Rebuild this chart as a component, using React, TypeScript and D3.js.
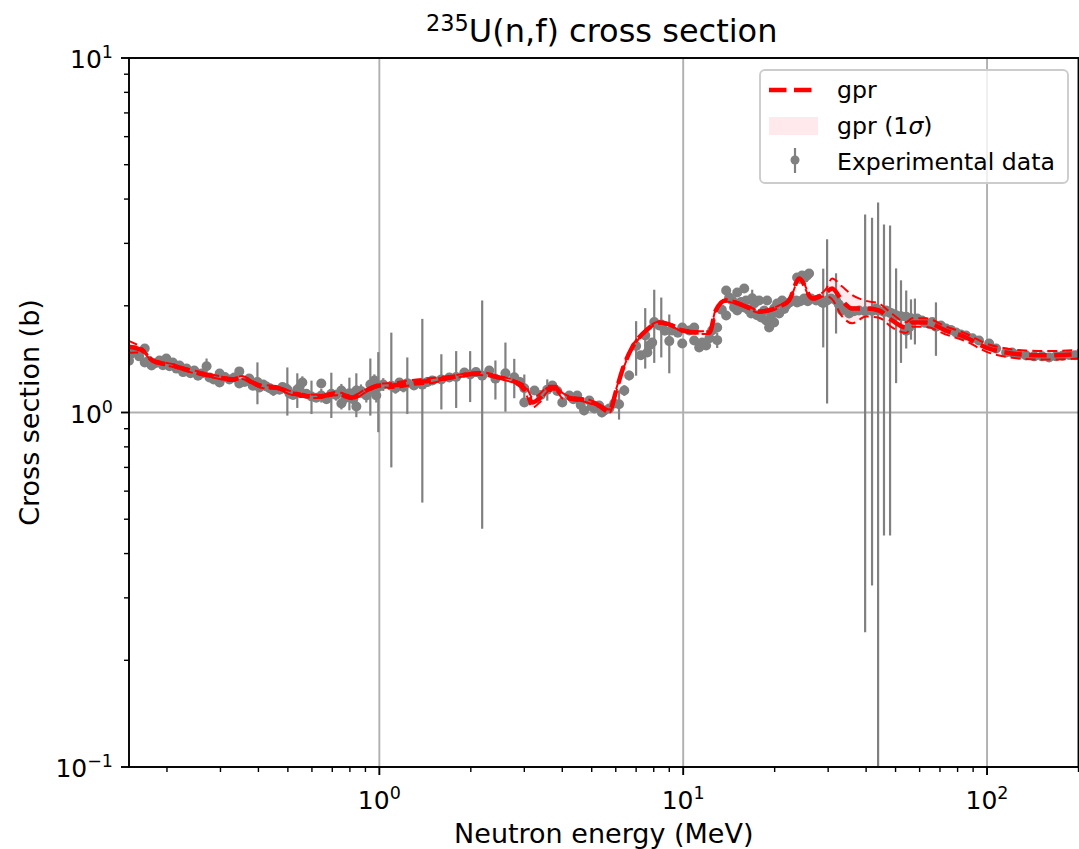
import React from 'react';
import * as d3 from 'd3';

const W = 1079;
const H = 849;
const X0 = 129, X1 = 1078.5, Y0 = 58, Y1 = 767;
const FONT = 'DejaVu Sans';
const FS_LEG = 23.6;
const FS_TICK = 25;
const FS_LAB = 27;
const FS_TITLE = 32;

// GPR mean curve and 1-sigma
const gprEnergy = [0.149, 0.166, 0.179, 0.193, 0.209, 0.225, 0.25, 0.276, 0.298, 0.328, 0.354, 0.382, 0.412, 0.458, 0.506, 0.558, 0.635, 0.722, 0.815, 0.906, 1.0, 1.104, 1.284, 1.493, 1.70, 2.13, 2.48, 2.82, 3.04, 3.19, 3.36, 3.62, 3.82, 4.0, 4.31, 4.80, 5.29, 5.71, 6.02, 6.30, 6.79, 7.55, 8.34, 9.2, 9.93, 11.3, 12.2, 12.8, 13.8, 16.1, 17.8, 20.7, 22.3, 24.1, 26.6, 29.5, 30.9, 33.3, 36.0, 40.0, 44.1, 48.7, 54.2, 56.7, 63.0, 73.3, 85.3, 99.3, 115.6, 134.4, 156.4, 200];
const gprMean = [1.535, 1.496, 1.402, 1.375, 1.357, 1.331, 1.297, 1.272, 1.255, 1.239, 1.255, 1.215, 1.184, 1.176, 1.139, 1.117, 1.11, 1.131, 1.102, 1.154, 1.192, 1.192, 1.215, 1.231, 1.255, 1.288, 1.255, 1.215, 1.154, 1.067, 1.095, 1.169, 1.169, 1.117, 1.095, 1.081, 1.046, 1.007, 1.154, 1.314, 1.525, 1.703, 1.794, 1.759, 1.703, 1.681, 1.681, 1.94, 2.07, 1.99, 1.927, 1.99, 2.07, 2.388, 2.097, 2.18, 2.238, 2.07, 1.965, 1.965, 1.94, 1.818, 1.737, 1.794, 1.794, 1.703, 1.628, 1.525, 1.476, 1.455, 1.45, 1.46];
const gprSigma = [0.06, 0.02, 0.012, 0.012, 0.012, 0.012, 0.012, 0.012, 0.012, 0.012, 0.012, 0.012, 0.012, 0.012, 0.012, 0.012, 0.012, 0.012, 0.012, 0.012, 0.012, 0.02, 0.02, 0.02, 0.012, 0.012, 0.012, 0.012, 0.03, 0.035, 0.03, 0.02, 0.02, 0.02, 0.012, 0.012, 0.012, 0.012, 0.012, 0.012, 0.012, 0.012, 0.012, 0.012, 0.012, 0.015, 0.015, 0.015, 0.015, 0.015, 0.015, 0.015, 0.015, 0.02, 0.02, 0.05, 0.15, 0.2, 0.18, 0.1, 0.09, 0.08, 0.06, 0.05, 0.05, 0.045, 0.04, 0.04, 0.04, 0.04, 0.04, 0.04];

// Experimental data: [energy (MeV), cross section (b), uncertainty (b)]
const expLow: [number, number, number][] = [
  [0.150, 1.40, 0.04], [0.152, 1.46, 0.03], [0.156, 1.50, 0.03], [0.162, 1.44, 0.03],
  [0.169, 1.515, 0.04], [0.169, 1.384, 0.02], [0.174, 1.40, 0.02], [0.178, 1.357, 0.02],
  [0.184, 1.38, 0.02], [0.189, 1.402, 0.02], [0.194, 1.36, 0.02], [0.199, 1.42, 0.025],
  [0.204, 1.35, 0.02], [0.209, 1.384, 0.02], [0.215, 1.33, 0.02], [0.22, 1.357, 0.02],
  [0.226, 1.30, 0.02], [0.232, 1.331, 0.02], [0.239, 1.29, 0.02], [0.246, 1.314, 0.02],
  [0.253, 1.27, 0.02], [0.26, 1.288, 0.02], [0.27, 1.35, 0.07], [0.276, 1.255, 0.02],
  [0.285, 1.24, 0.02], [0.298, 1.288, 0.02], [0.298, 1.215, 0.02], [0.31, 1.26, 0.02],
  [0.321, 1.239, 0.02], [0.333, 1.255, 0.02], [0.346, 1.306, 0.03], [0.346, 1.207, 0.02],
  [0.36, 1.22, 0.02], [0.373, 1.247, 0.02], [0.383, 1.19, 0.02], [0.394, 1.215, 0.02],
  [0.397, 1.22, 0.165], [0.403, 1.176, 0.02], [0.415, 1.20, 0.02], [0.425, 1.184, 0.02],
  [0.436, 1.17, 0.02], [0.448, 1.154, 0.04], [0.469, 1.16, 0.02], [0.48, 1.18, 0.03],
  [0.494, 1.169, 0.02], [0.498, 1.16, 0.18], [0.506, 1.131, 0.02], [0.52, 1.12, 0.03],
  [0.537, 1.16, 0.13], [0.546, 1.176, 0.02], [0.558, 1.215, 0.05], [0.575, 1.13, 0.03],
  [0.598, 1.11, 0.12], [0.62, 1.10, 0.03], [0.644, 1.207, 0.03], [0.644, 1.117, 0.05],
  [0.67, 1.09, 0.03], [0.695, 1.13, 0.165], [0.72, 1.12, 0.04], [0.75, 1.154, 0.05],
  [0.75, 1.06, 0.04], [0.775, 1.10, 0.04], [0.797, 1.134, 0.12], [0.82, 1.09, 0.04],
  [0.84, 1.154, 0.04], [0.84, 1.13, 0.16], [0.84, 1.04, 0.03], [0.87, 1.15, 0.05],
  [0.906, 1.117, 0.05], [0.934, 1.2, 0.22], [0.95, 1.16, 0.05], [0.963, 1.231, 0.05],
  [0.977, 1.117, 0.05], [0.992, 1.18, 0.30],
];
const expMid: [number, number, number][] = [
  [1.03, 1.20, 0.05], [1.095, 1.19, 0.49], [1.13, 1.17, 0.04], [1.164, 1.215, 0.03],
  [1.20, 1.18, 0.04], [1.236, 1.21, 0.22], [1.30, 1.192, 0.03], [1.385, 1.197, 0.64],
  [1.44, 1.22, 0.04], [1.494, 1.231, 0.03], [1.60, 1.24, 0.22], [1.70, 1.255, 0.03],
  [1.79, 1.26, 0.23], [1.905, 1.297, 0.03], [1.99, 1.28, 0.21], [2.08, 1.30, 0.04],
  [2.18, 1.27, 0.80], [2.30, 1.314, 0.03], [2.41, 1.245, 0.157], [2.60, 1.29, 0.285],
  [2.78, 1.257, 0.16], [2.9, 1.22, 0.04], [3.0, 1.17, 0.11], [3.0, 1.067, 0.03],
  [3.24, 1.154, 0.03], [3.4, 1.12, 0.03], [3.57, 1.16, 0.08], [3.71, 1.192, 0.03],
  [3.85, 1.15, 0.03], [4.0, 1.067, 0.03], [4.22, 1.117, 0.03], [4.35, 1.09, 0.03],
  [4.48, 1.117, 0.03], [4.6, 1.05, 0.03], [4.72, 1.013, 0.03], [4.91, 1.081, 0.03],
  [5.0, 1.04, 0.03], [5.10, 1.026, 0.03], [5.29, 1.046, 0.03], [5.40, 1.00, 0.03],
  [5.50, 1.013, 0.03], [5.71, 1.026, 0.03], [5.93, 1.06, 0.03], [6.15, 1.055, 0.10],
  [6.40, 1.154, 0.04], [6.64, 1.272, 0.04], [7.0, 1.54, 0.27], [7.25, 1.45, 0.04],
  [7.50, 1.65, 0.32], [7.62, 1.476, 0.04], [7.73, 1.545, 0.04], [7.91, 1.576, 0.04],
  [8.03, 1.80, 0.42], [8.34, 1.76, 0.04], [8.47, 1.77, 0.34], [8.7, 1.70, 0.04],
  [9.0, 1.59, 0.30], [9.2, 1.703, 0.04], [9.6, 1.68, 0.04], [9.93, 1.737, 0.04],
  [9.93, 1.565, 0.04],
];
const expHigh: [number, number, number][] = [
  [10.47, 1.703, 0.04], [10.87, 1.737, 0.04], [10.87, 1.597, 0.04], [11.29, 1.525, 0.04],
  [11.55, 1.576, 0.04], [11.9, 1.545, 0.04], [12.2, 1.62, 0.04], [12.45, 1.703, 0.04],
  [12.94, 1.60, 0.08], [12.94, 1.737, 0.04], [13.4, 1.95, 0.05], [13.85, 2.209, 0.05],
  [13.85, 1.878, 0.04], [14.17, 2.11, 0.05], [14.5, 2.07, 0.08], [14.71, 1.978, 0.04],
  [15.06, 2.18, 0.05], [15.06, 1.94, 0.04], [15.5, 2.05, 0.05], [15.88, 2.238, 0.06],
  [15.88, 1.978, 0.04], [16.1, 2.07, 0.04], [16.4, 1.95, 0.04], [16.74, 1.903, 0.04],
  [16.87, 2.10, 0.12], [17.13, 2.03, 0.04], [17.5, 1.88, 0.04], [17.78, 2.07, 0.04],
  [18.06, 1.853, 0.04], [18.47, 1.94, 0.04], [18.75, 1.818, 0.04], [18.89, 2.07, 0.04],
  [19.18, 1.737, 0.04], [19.5, 1.88, 0.04], [19.92, 1.965, 0.04], [19.92, 1.794, 0.04],
  [20.38, 2.03, 0.05], [20.7, 1.903, 0.04], [21.17, 2.07, 0.04], [21.5, 1.96, 0.04],
  [21.82, 2.004, 0.04], [22.3, 2.04, 0.04], [22.84, 2.07, 0.04], [23.54, 2.07, 0.04],
  [23.71, 2.403, 0.04], [24.2, 2.38, 0.04], [24.62, 2.435, 0.04], [25.1, 2.40, 0.04],
  [25.58, 2.435, 0.04], [25.96, 2.466, 0.04], [23.71, 2.043, 0.04], [24.3, 2.06, 0.04],
  [25.0, 2.097, 0.04], [25.7, 2.06, 0.04], [26.36, 2.097, 0.04], [27.39, 2.07, 0.04],
  [28.0, 2.09, 0.04], [28.65, 2.043, 0.04], [28.9, 2.036, 0.51], [29.76, 2.07, 1.01],
  [30.68, 2.097, 0.05], [31.85, 2.07, 0.40], [32.5, 2.02, 0.05], [33.3, 1.94, 0.05],
  [34.2, 1.97, 0.05], [35.16, 1.903, 0.05], [36.5, 1.93, 0.05], [37.9, 1.94, 0.05],
  [39.7, 1.93, 1.69], [41.84, 1.935, 1.61], [43.8, 1.94, 1.97], [45.8, 1.92, 1.47],
  [47.96, 1.91, 1.46], [43.1, 1.965, 0.05], [46.5, 1.94, 0.05], [48.7, 1.903, 0.05],
  [50.2, 1.88, 0.67], [52.1, 1.87, 0.49], [54.2, 1.862, 0.347], [54.2, 1.70, 0.05],
  [55.4, 1.737, 0.05], [56.2, 1.845, 0.24], [56.6, 1.818, 0.05], [57.9, 1.826, 0.27],
  [58.9, 1.841, 0.04], [61.1, 1.818, 0.04], [62.5, 1.79, 0.04], [64.5, 1.78, 0.04],
  [66.0, 1.80, 0.04], [67.9, 1.745, 0.30], [70.5, 1.76, 0.04], [73.3, 1.726, 0.04],
  [76.0, 1.71, 0.04], [79.1, 1.682, 0.04], [82.0, 1.66, 0.04], [85.3, 1.649, 0.04],
  [89.5, 1.62, 0.04], [94.1, 1.597, 0.04], [101.6, 1.565, 0.04], [107.1, 1.515, 0.04],
  [115.6, 1.476, 0.04], [120.9, 1.476, 0.04], [127.0, 1.46, 0.03], [134.4, 1.448, 0.03],
  [143.0, 1.44, 0.03], [151.7, 1.44, 0.03], [160.0, 1.43, 0.03], [168.7, 1.44, 0.03],
  [177.0, 1.445, 0.03], [186.2, 1.452, 0.03], [195.0, 1.45, 0.03],
];

const xMajor = [1, 10, 100];
const xMajorExp = ['0', '1', '2'];
const yMajor = [0.1, 1, 10];
const yMajorExp = ['\u22121', '0', '1'];

export default function App() {
  const x = d3.scaleLog().domain([0.15, 200]).range([X0, X1]);
  const y = d3.scaleLog().domain([0.1, 10]).range([Y1, Y0]);

  const xMinor: number[] = [];
  [0.1, 1, 10, 100].forEach((d) => {
    for (let k = 2; k <= 9; k++) {
      const v = k * d;
      if (v >= 0.15 && v <= 200) xMinor.push(v);
    }
  });
  const yMinor: number[] = [];
  [0.1, 1].forEach((d) => {
    for (let k = 2; k <= 9; k++) yMinor.push(k * d);
  });

  const idx = gprEnergy.map((_, i) => i);
  const line = (vals: number[]) =>
    d3.line<number>().x((i) => x(gprEnergy[i])).y((i) => y(vals[i])).curve(d3.curveMonotoneX)(idx) || '';
  const upper = gprMean.map((m, i) => m + gprSigma[i]);
  const lower = gprMean.map((m, i) => m - gprSigma[i]);
  const band =
    d3
      .area<number>()
      .x((i) => x(gprEnergy[i]))
      .y0((i) => y(lower[i]))
      .y1((i) => y(upper[i]))
      .curve(d3.curveMonotoneX)(idx) || '';

  const exp = [...expLow, ...expMid, ...expHigh];
  const yClamp = (v: number) => (v <= 0.05 ? Y1 + 20 : y(v));

  const grey = '#808080';
  const red = '#ff0000';

  return (
    <svg width={W} height={H} style={{ position: 'absolute', left: 0, top: 0, background: '#fff' }} fontFamily={FONT}>
      <defs>
        <clipPath id="plotclip">
          <rect x={X0} y={Y0} width={X1 - X0} height={Y1 - Y0} />
        </clipPath>
      </defs>
      <rect x={0} y={0} width={W} height={H} fill="#fff" />
      {/* grid */}
      {xMajor.map((v) => (
        <line key={'gx' + v} x1={x(v)} x2={x(v)} y1={Y0} y2={Y1} stroke="#b0b0b0" strokeWidth={1.9} />
      ))}
      {yMajor.map((v) => (
        <line key={'gy' + v} x1={X0} x2={X1} y1={y(v)} y2={y(v)} stroke="#b0b0b0" strokeWidth={1.9} />
      ))}
      <g clipPath="url(#plotclip)">
        <path d={band} fill="#ffc0cb" fillOpacity={0.35} stroke="none" />
        {exp.map((d, i) => (
          <line
            key={'eb' + i}
            x1={x(d[0])}
            x2={x(d[0])}
            y1={yClamp(d[1] - d[2])}
            y2={y(d[1] + d[2])}
            stroke={grey}
            strokeWidth={2.2}
          />
        ))}
        {exp.map((d, i) => (
          <circle key={'pt' + i} cx={x(d[0])} cy={y(d[1])} r={5} fill={grey} />
        ))}
        <path d={line(upper)} fill="none" stroke={red} strokeWidth={2} strokeDasharray="10 5" />
        <path d={line(lower)} fill="none" stroke={red} strokeWidth={2} strokeDasharray="10 5" />
        <path d={line(gprMean)} fill="none" stroke={red} strokeWidth={4.5} strokeDasharray="17.5 7.5" />
      </g>
      {/* spines */}
      <rect x={X0} y={Y0} width={X1 - X0} height={Y1 - Y0} fill="none" stroke="#000" strokeWidth={1.9} />
      {/* x ticks */}
      {xMajor.map((v, i) => (
        <g key={'xt' + v}>
          <line x1={x(v)} x2={x(v)} y1={Y1} y2={Y1 + 8} stroke="#000" strokeWidth={1.9} />
          <text x={x(v)} y={809} textAnchor="middle" fontSize={FS_TICK} fill="#000">
            10
            <tspan fontSize={FS_TICK * 0.7} dy={-10}>
              {xMajorExp[i]}
            </tspan>
          </text>
        </g>
      ))}
      {xMinor.map((v) => (
        <line key={'xm' + v} x1={x(v)} x2={x(v)} y1={Y1} y2={Y1 + 5} stroke="#000" strokeWidth={1.4} />
      ))}
      {/* y ticks */}
      {yMajor.map((v, i) => (
        <g key={'yt' + v}>
          <line x1={X0 - 8} x2={X0} y1={y(v)} y2={y(v)} stroke="#000" strokeWidth={1.9} />
          <text x={113} y={y(v) + 10} textAnchor="end" fontSize={FS_TICK} fill="#000">
            10
            <tspan fontSize={FS_TICK * 0.7} dy={-10}>
              {yMajorExp[i]}
            </tspan>
          </text>
        </g>
      ))}
      {yMinor.map((v) => (
        <line key={'ym' + v} x1={X0 - 5} x2={X0} y1={y(v)} y2={y(v)} stroke="#000" strokeWidth={1.4} />
      ))}
      {/* axis labels */}
      <text x={(X0 + X1) / 2} y={843} textAnchor="middle" fontSize={FS_LAB} fill="#000">
        Neutron energy (MeV)
      </text>
      <text
        transform={`translate(39, ${(Y0 + Y1) / 2}) rotate(-90)`}
        textAnchor="middle"
        fontSize={FS_LAB}
        fill="#000"
      >
        Cross section (b)
      </text>
      {/* title */}
      <text x={(X0 + X1) / 2 - 2} y={42} textAnchor="middle" fontSize={FS_TITLE} fill="#000">
        <tspan fontSize={FS_TITLE * 0.7} dy={-11}>235</tspan>
        <tspan dy={11}>U(n,f) cross section</tspan>
      </text>
      {/* legend */}
      <g>
        <rect x={760} y={70} width={308} height={113} rx={5} ry={5} fill="#fff" fillOpacity={0.8} stroke="#cccccc" strokeWidth={1.9} />
        <line x1={769} x2={818} y1={90} y2={90} stroke={red} strokeWidth={4.5} strokeDasharray="17.5 7.5" />
        <text x={837} y={98} fontSize={FS_LEG} fill="#000">gpr</text>
        <rect x={769} y={117} width={49} height={18} fill="#ffc0cb" fillOpacity={0.35} />
        <text x={837} y={134} fontSize={FS_LEG} fill="#000">
          gpr (1<tspan fontStyle="italic">σ</tspan>)
        </text>
        <line x1={795} x2={795} y1={148} y2={173} stroke={grey} strokeWidth={2.2} />
        <circle cx={795} cy={160} r={4.5} fill={grey} />
        <text x={837} y={170} fontSize={FS_LEG} fill="#000">Experimental data</text>
      </g>
    </svg>
  );
}
